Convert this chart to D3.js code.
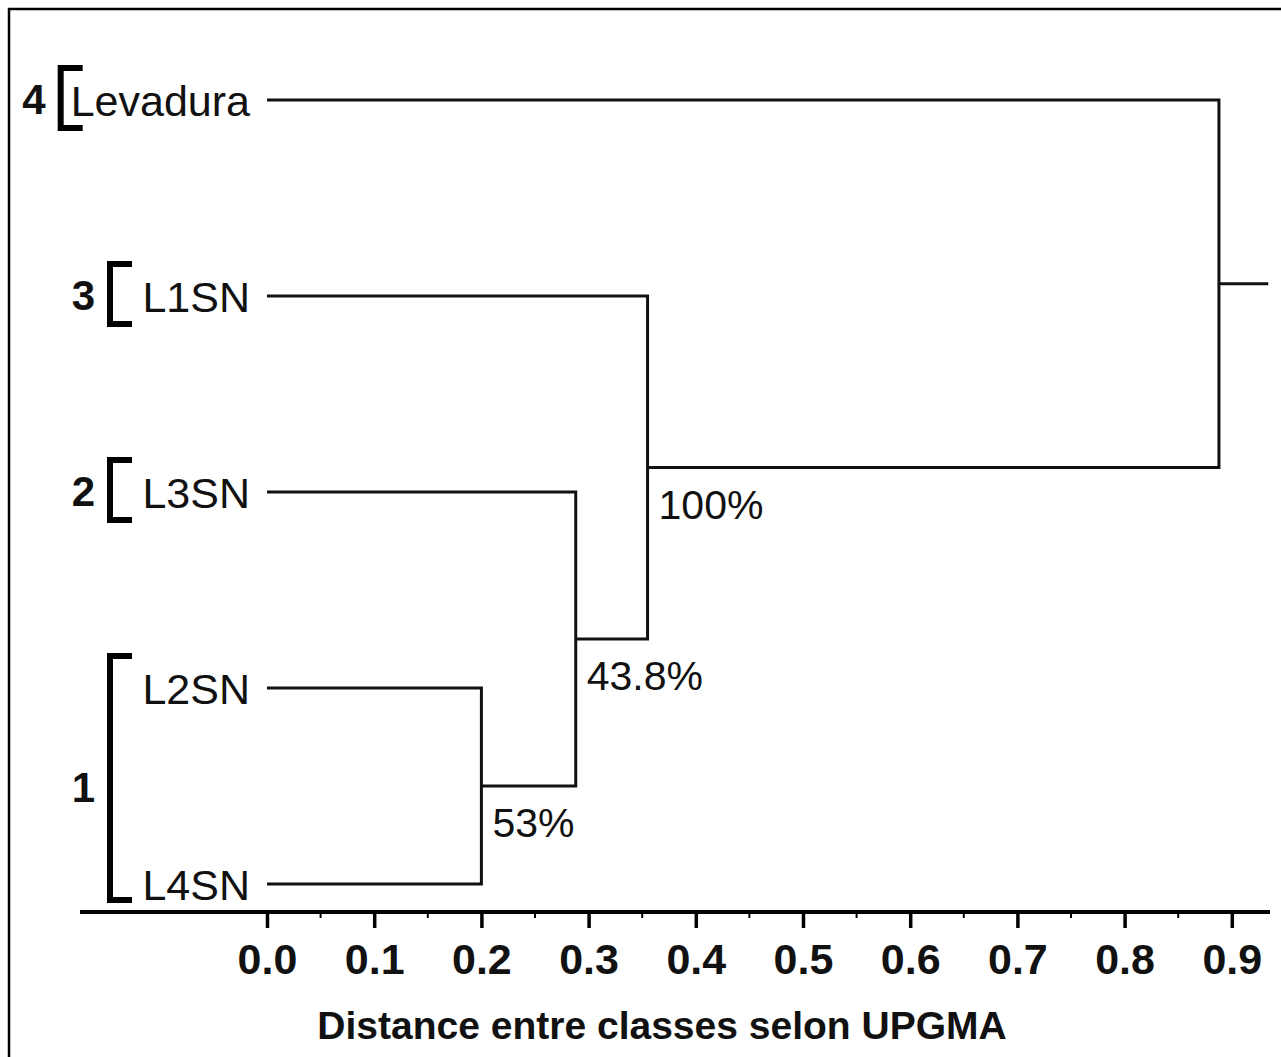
<!DOCTYPE html>
<html><head><meta charset="utf-8">
<script src="https://cdn.jsdelivr.net/npm/d3@7"></script>
<style>body{margin:0;background:#fff;} svg{display:block;}</style>
</head><body>
<script>
// ---- data ----
const leaves = ["Levadura", "L1SN", "L3SN", "L2SN", "L4SN"];
const mergeNames   = ["m0", "m1", "m2", "m3"];
const mergeLeft    = ["L2SN", "L3SN", "L1SN", "Levadura"];
const mergeRight   = ["L4SN", "m0", "m1", "m2"];
const mergeHeights = [0.2, 0.288, 0.355, 0.888];
const mergeSupport = ["53%", "43.8%", "100%", ""];
const rootStub = 0.046;
const groupLabels  = ["4", "3", "2", "1"];
const groupMembers = [["Levadura"], ["L1SN"], ["L3SN"], ["L2SN", "L4SN"]];
const tickValues = [0, 0.1, 0.2, 0.3, 0.4, 0.5, 0.6, 0.7, 0.8, 0.9];
const tickLabels = ["0.0", "0.1", "0.2", "0.3", "0.4", "0.5", "0.6", "0.7", "0.8", "0.9"];
const minorTicks = [0.05, 0.15, 0.25, 0.35, 0.45, 0.55, 0.65, 0.75, 0.85];
const axisTitle = "Distance entre classes selon UPGMA";

// ---- layout ----
const W = 1281, H = 1057;
const svg = d3.select("body").append("svg").attr("width", W).attr("height", H);
const x = d3.scaleLinear().domain([0, 1]).range([267, 1339]);
const y = d3.scalePoint().domain(leaves).range([100, 884]);
const font = "'Liberation Sans', Arial, sans-serif";

svg.append("rect").attr("x", 9).attr("y", 9).attr("width", W + 20).attr("height", H + 20)
  .attr("fill", "none").attr("stroke", "#000").attr("stroke-width", 2.5);

// node positions
const pos = {};
leaves.forEach(l => pos[l] = {x: x(0), y: y(l)});
const g = svg.append("g").attr("fill", "none").attr("stroke", "#111").attr("stroke-width", 3);
mergeNames.forEach((m, i) => {
  const a = pos[mergeLeft[i]], b = pos[mergeRight[i]];
  const mx = x(mergeHeights[i]);
  const my = (a.y + b.y) / 2;
  pos[m] = {x: mx, y: my};
  g.append("path").attr("d", `M${a.x},${a.y}H${mx}V${b.y}H${b.x}`);
  if (mergeSupport[i]) {
    svg.append("text").attr("x", mx + 11).attr("y", my + 51)
      .attr("font-family", font).attr("font-size", 41).attr("fill", "#111")
      .text(mergeSupport[i]);
  }
});
const root = pos[mergeNames[mergeNames.length - 1]];
g.append("path").attr("d", `M${root.x},${root.y}H${x(mergeHeights[3] + rootStub)}`);

// leaf labels
const labelEnd = 250;
const lab = {};
leaves.forEach(l => {
  lab[l] = svg.append("text").attr("x", labelEnd).attr("y", y(l) + 16)
    .attr("text-anchor", "end").attr("font-family", font).attr("font-size", 43)
    .attr("fill", "#111").text(l);
});

// group brackets
groupLabels.forEach((gl, i) => {
  const mem = groupMembers[i];
  const start = d3.min(mem, m => labelEnd - lab[m].node().getComputedTextLength());
  const bx = Math.min(start - 10, 110);
  const y0 = y(mem[0]) - 32, y1 = y(mem[mem.length - 1]) + (mem.length > 1 ? 16 : 28);
  svg.append("path").attr("d", `M${bx + 22},${y0}H${bx}V${y1}H${bx + 22}`)
    .attr("fill", "none").attr("stroke", "#000").attr("stroke-width", 6);
  svg.append("text").attr("x", bx - 15).attr("y", (y0 + y1) / 2 + (mem.length > 1 ? 24 : 16))
    .attr("text-anchor", "end").attr("font-family", font).attr("font-weight", "bold")
    .attr("font-size", 42).attr("fill", "#111").text(gl);
});

// axis
const axisY = 912;
svg.append("line").attr("x1", 80).attr("x2", 1270).attr("y1", axisY).attr("y2", axisY)
  .attr("stroke", "#000").attr("stroke-width", 4);
const ax = svg.append("g").attr("transform", `translate(0,${axisY})`)
  .call(d3.axisBottom(x).tickValues(tickValues).tickSize(16).tickPadding(15)
    .tickFormat((d, i) => tickLabels[i]));
ax.select(".domain").remove();
ax.selectAll(".tick line").attr("stroke", "#000").attr("stroke-width", 3.5);
ax.selectAll(".tick text").attr("font-family", font).attr("font-weight", "bold")
  .attr("font-size", 43).attr("fill", "#111");
svg.append("g").selectAll("line").data(minorTicks).join("line")
  .attr("x1", d => x(d)).attr("x2", d => x(d)).attr("y1", axisY).attr("y2", axisY + 6)
  .attr("stroke", "#000").attr("stroke-width", 2);

svg.append("text").attr("x", 662).attr("y", 1039).attr("text-anchor", "middle")
  .attr("font-family", font).attr("font-weight", "bold").attr("font-size", 39)
  .attr("fill", "#111").text(axisTitle);
</script>
</body></html>
